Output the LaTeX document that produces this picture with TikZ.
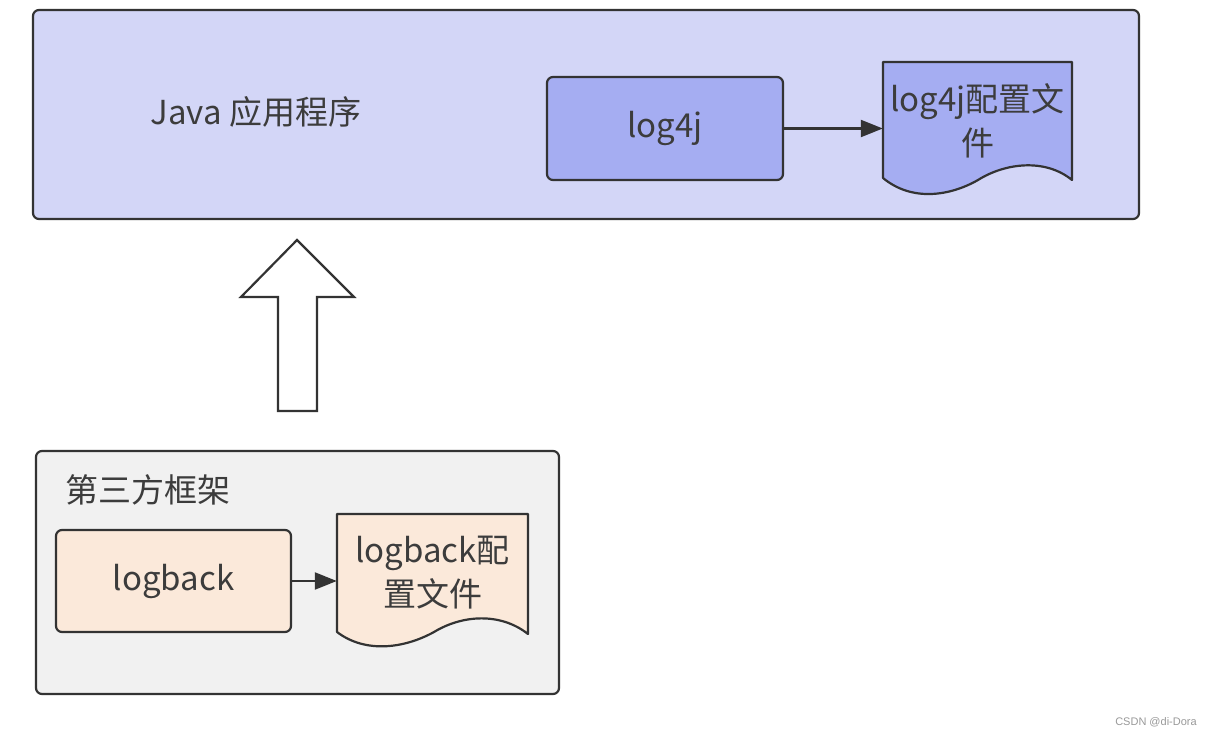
\documentclass[tikz,border=0pt]{standalone}
\usepackage{fontspec}
\setmainfont{Noto Sans CJK SC}
\newfontfamily\wmfont{Liberation Sans}
\usetikzlibrary{arrows.meta}
\definecolor{ink}{HTML}{333333}
\definecolor{txt}{HTML}{3C3C3C}
\definecolor{topbg}{HTML}{D3D6F7}
\definecolor{blueb}{HTML}{A5ADF2}
\definecolor{botbg}{HTML}{F1F1F1}
\definecolor{peach}{HTML}{FBE9DA}
\definecolor{wm}{HTML}{999999}
\tikzset{
  container/.style={draw=ink, line width=2.2pt, rounded corners=6pt, inner sep=0pt},
  procbox/.style={draw=ink, line width=2.2pt, rounded corners=6pt, inner sep=0pt},
  docshape/.style={draw=ink, line width=2.2pt, line join=round},
  doctext/.style={inner sep=0pt, align=center, text=txt, font=\fontsize{33}{44}\selectfont},
  lbl/.style={inner sep=0pt, text=txt, font=\fontsize{33}{40}\selectfont},
  conn/.style={draw=ink, line width=2.2pt, -{Triangle[length=22pt,width=17pt]}},
  blockarrow/.style={draw=ink, line width=2.2pt, fill=white, line join=miter},
}
\begin{document}
\begin{tikzpicture}[x=1pt,y=-1pt]
\useasboundingbox (0,0) rectangle (1212,738);
\fill[white] (0,0) rectangle (1212,738);
% top container
\node[container, fill=topbg, minimum width=1106pt, minimum height=209pt] (app) at (586,114.5) {};
\node[lbl] (java) at (256,112) {Java 应用程序};
\node[procbox, fill=blueb, minimum width=236pt, minimum height=103pt, lbl] (log4j) at (665,128.5) {log4j};
\draw[docshape, fill=blueb] (883,62) -- (1072,62) -- (1072,180)
  .. controls (1045,158) and (1005,163) .. (978,180)
  .. controls (950,196) and (912,202) .. (883,178) -- cycle;
\node[doctext, minimum width=189pt, minimum height=116pt] (cfg1) at (977.5,121) {log4j配置文\\件};
\draw[conn] (log4j.east) -- (log4j.east -| cfg1.west);
% block arrow
\draw[blockarrow] (297,240) -- (354,297) -- (317,297) -- (317,411) -- (278,411) -- (278,297) -- (241,297) -- cycle;
% bottom container
\node[container, fill=botbg, minimum width=523pt, minimum height=243pt] (third) at (297.5,572.5) {};
\node[lbl] (thirdlbl) at (148,490) {第三方框架};
\node[procbox, fill=peach, minimum width=235pt, minimum height=102pt, lbl] (logback) at (173.5,581) {logback};
\draw[docshape, fill=peach] (337,514) -- (528,514) -- (528,634)
  .. controls (500,612) and (462,615) .. (434,632)
  .. controls (405,648) and (366,654) .. (337,632) -- cycle;
\node[doctext, minimum width=191pt, minimum height=118pt] (cfg2) at (432.5,573) {logback配\\置文件};
\draw[conn] (logback.east) -- (logback.east -| cfg2.west);
% watermark
\node[inner sep=0pt, text=wm, font=\wmfont\fontsize{11}{13}\selectfont] (wmark) at (1156,722) {CSDN @di-Dora};
\end{tikzpicture}
\end{document}
